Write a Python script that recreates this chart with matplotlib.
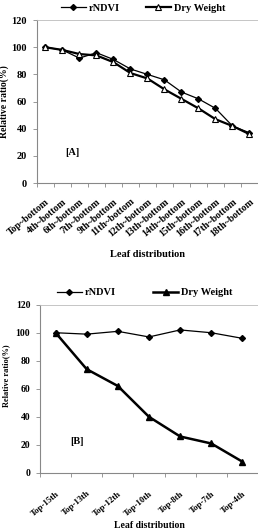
import matplotlib
matplotlib.use("Agg")
import matplotlib.pyplot as plt
from matplotlib.ticker import FixedLocator
import numpy as np

plt.rcParams["font.family"] = ["Liberation Serif", "DejaVu Serif"]
plt.rcParams["font.weight"] = "bold"

# panel A
cats_a = ["Top~bottom", "4th~bottom", "6th~bottom", "7th~bottom", "9th~bottom",
          "11th~bottom", "12th~bottom", "13th~bottom", "14th~bottom", "15th~bottom",
          "16th~bottom", "17th~bottom", "18th~bottom"]
ndvi_a = [100, 98, 92, 96, 91, 84, 80, 76, 67, 62, 55, 42, 37]
dry_a = [100, 98, 95, 94, 89, 81, 77, 69, 62, 55, 47, 42, 36]

# panel B
cats_b = ["Top-15th", "Top-13th", "Top-12th", "Top-10th", "Top-8th", "Top-7th", "Top-4th"]
ndvi_b = [100, 99, 101, 97, 102, 100, 96]
dry_b = [100, 74, 62, 40, 26, 21, 8]

fig = plt.figure(figsize=(2.58, 5.29), dpi=100)
ax_a = fig.add_axes([0.143, 0.654, 0.857, 0.308])
ax_b = fig.add_axes([0.155, 0.106, 0.845, 0.318])


def style(ax, cats, tag, tag_xy, fs):
    n = len(cats)
    x = np.arange(n)
    ax.set_xlim(-0.5, n - 0.5)
    ax.set_ylim(0, 120)
    ax.set_yticks([0, 20, 40, 60, 80, 100, 120])
    ax.set_xticks(x)
    ax.set_xticklabels(cats, rotation=40, ha="right", rotation_mode="anchor",
                       fontsize=fs["xt"], fontweight="bold")
    ax.xaxis.set_minor_locator(FixedLocator(np.arange(n + 1) - 0.5))
    ax.tick_params(axis="x", which="major", length=0, pad=fs["pad"])
    ax.tick_params(axis="x", which="minor", length=3, width=0.6, color="#888888")
    ax.tick_params(axis="y", length=3, width=0.6, labelsize=fs["yt"], color="#888888",
                   pad=4)
    for lab in ax.get_yticklabels():
        lab.set_fontweight("bold")
    for s in ["left", "bottom"]:
        ax.spines[s].set_color("#888888")
        ax.spines[s].set_linewidth(0.8)
    ax.spines["top"].set_color("#bbbbbb")
    ax.spines["top"].set_linewidth(0.6)
    ax.spines["right"].set_visible(False)
    ax.set_ylabel("Relative ratio(%)", fontsize=fs["yl"], fontweight="bold")
    ax.yaxis.set_label_coords(*fs["yl_xy"])
    ax.set_xlabel("Leaf distribution", fontsize=fs["xl"], fontweight="bold")
    ax.xaxis.set_label_coords(*fs["xl_xy"])
    ax.text(tag_xy[0], tag_xy[1], tag, transform=ax.transAxes, fontsize=7.5,
            fontweight="bold")


xa = np.arange(len(cats_a))
ax_a.plot(xa, ndvi_a, color="black", lw=0.9, marker="D", ms=3, label="rNDVI")
ax_a.plot(xa, dry_a, color="black", lw=1.6, marker="^", ms=4, mfc="white",
          mew=0.8, label="Dry Weight")
style(ax_a, cats_a, "[A]", (0.13, 0.17),
      {"xt": 7, "yt": 7.5, "yl": 7, "xl": 7.5, "pad": 10,
       "yl_xy": (-0.125, 0.5), "xl_xy": (0.5, -0.41)})
ax_a.legend(loc="lower center", bbox_to_anchor=(0.48, 1.02), ncol=2, frameon=False,
            handlelength=2.4, handletextpad=0.3, columnspacing=2.5, borderaxespad=0,
            prop={"weight": "bold", "size": 7.5})

xb = np.arange(len(cats_b))
ax_b.plot(xb, ndvi_b, color="black", lw=0.9, marker="D", ms=3, label="rNDVI")
ax_b.plot(xb, dry_b, color="black", lw=1.8, marker="^", ms=4, label="Dry Weight")
style(ax_b, cats_b, "[B]", (0.14, 0.17),
      {"xt": 6.3, "yt": 7, "yl": 6, "xl": 7, "pad": 12,
       "yl_xy": (-0.135, 0.58), "xl_xy": (0.5, -0.285)})
ax_b.legend(loc="lower center", bbox_to_anchor=(0.48, 1.02), ncol=2, frameon=False,
            handlelength=2.4, handletextpad=0.3, columnspacing=3.6, borderaxespad=0,
            prop={"weight": "bold", "size": 7.5})

fig.savefig("out.png", dpi=100)
